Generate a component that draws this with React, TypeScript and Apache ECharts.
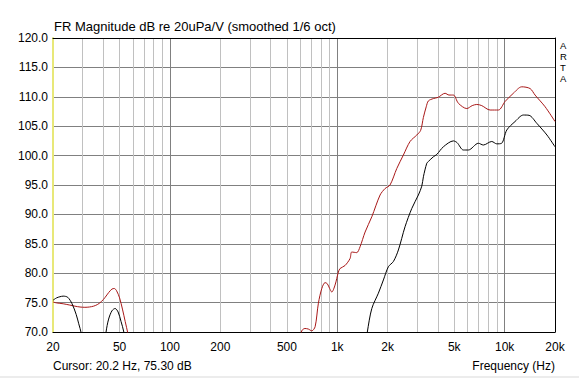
import React, { useEffect, useRef } from "react";
import * as echarts from "echarts";

// ---- data ----
const redFreq = [20, 21, 23, 25, 27, 29, 31, 33, 35, 37, 39, 41, 43, 45, 46.5, 48, 50, 52, 54, 56, 58, 60, 580, 600, 613, 641, 671, 704, 737, 771, 808, 845, 872, 900, 927, 970, 1015, 1039, 1112, 1192, 1220, 1307, 1368, 1466, 1608, 1802, 1930, 2066, 2267, 2483, 2722, 2986, 3150, 3270, 3400, 3502, 3752, 4000, 4406, 4650, 4941, 5292, 5941, 6400, 6815, 7300, 8186, 9181, 10060, 11280, 12660, 14200, 15200, 17460, 20000];
const redDb = [75.1, 74.95, 74.8, 74.6, 74.4, 74.25, 74.2, 74.25, 74.4, 74.7, 75.2, 75.9, 76.7, 77.3, 77.4, 77.0, 75.8, 73.9, 71.8, 69.8, 67.5, 64, 64, 68.5, 70.2, 70.6, 70.5, 70.2, 70.9, 74.9, 77.4, 78.4, 78.2, 77.4, 76.8, 78.0, 80.2, 80.8, 81.3, 82.5, 83.6, 83.5, 84.5, 87.0, 89.6, 93.3, 94.4, 95.0, 97.8, 100.1, 102.4, 103.5, 104.3, 106.5, 108.3, 109.3, 109.7, 109.9, 110.6, 110.3, 110.3, 108.9, 108.0, 108.5, 108.7, 108.5, 107.75, 107.75, 109.2, 110.6, 111.7, 111.4, 110.3, 108.3, 105.8];

const blackFreq = [20, 21, 22, 23, 24.5, 26, 27.5, 28.5, 29.5, 31, 33, 38, 40, 41.5, 43, 45, 47, 49, 51, 53, 55, 58, 1400, 1450, 1512, 1608, 1760, 1886, 2020, 2165, 2318, 2540, 2786, 3052, 3198, 3270, 3426, 3502, 3752, 3932, 4306, 4941, 5200, 5670, 6070, 6968, 7460, 8376, 8970, 9600, 10300, 11550, 12940, 14000, 15560, 17900, 20000];
const blackDb = [75.4, 75.8, 76.0, 76.1, 75.9, 74.8, 73.0, 71.4, 69.8, 66, 63, 63, 66, 70, 72.2, 73.6, 74.0, 73.4, 71.8, 70, 67, 63, 63, 66, 70, 74.0, 76.6, 78.85, 81.1, 82.0, 83.95, 87.9, 91.0, 93.3, 94.8, 96.4, 98.7, 99.0, 99.8, 100.2, 101.5, 102.5, 102.2, 100.95, 100.95, 102.1, 101.8, 102.4, 102.0, 102.1, 104.35, 105.8, 106.9, 106.85, 105.5, 103.5, 101.5];

const xGridValues = [30, 40, 50, 60, 70, 80, 90, 100, 200, 300, 400, 500, 600, 700, 800, 900, 1000, 2000, 3000, 4000, 5000, 6000, 7000, 8000, 9000, 10000];
const xLabelValues = [20, 50, 100, 200, 500, 1000, 2000, 5000, 10000, 20000];
const xMin = 20;
const xMax = 20000;
const yMin = 70;
const yMax = 120;
const yStep = 5;

const titleText = "FR Magnitude dB re 20uPa/V (smoothed 1/6 oct)";
const cursorText = "Cursor: 20.2 Hz, 75.30 dB";
const xAxisName = "Frequency (Hz)";
const sideLetters = ["A", "R", "T", "A"];

const FONT = "'Liberation Sans', Arial, sans-serif";

export default function App() {
  const ref = useRef<HTMLDivElement>(null);

  useEffect(() => {
    if (!ref.current) return;
    const chart = echarts.init(ref.current, undefined, { renderer: "svg" });
    const zip = (f: number[], v: number[]) => f.map((x, i) => [x, v[i]]);
    const light = "#c0c0c0";
    const dark = "#808080";

    const letterTexts = sideLetters.map((ch, i) => ({
      type: "text",
      left: 560,
      top: 40 + i * 11,
      style: { text: ch, font: `9.5px ${FONT}`, fill: "#000", lineHeight: 9 },
    }));

    chart.setOption({
      animation: false,
      backgroundColor: "#ffffff",
      grid: { left: 53, top: 38, right: 24, bottom: 46, containLabel: false },
      xAxis: [
        {
          type: "log",
          logBase: 10,
          min: xMin,
          max: xMax,
          position: "bottom",
          axisLine: { show: true, lineStyle: { color: "#000", width: 1 } },
          axisTick: { show: false, customValues: xGridValues },
          axisLabel: {
            customValues: xLabelValues,
            color: "#000",
            fontFamily: FONT,
            fontSize: 12,
            margin: 9,
            formatter: (v: number) => {
              const r = Math.round(v);
              return r >= 1000 ? r / 1000 + "k" : String(r);
            },
          },
          splitLine: {
            show: true,
            lineStyle: { color: [light, light, light, light, light, light, light, dark, light], width: 1 },
          },
        },
        {
          type: "log",
          logBase: 10,
          min: xMin,
          max: xMax,
          position: "top",
          axisLine: { show: true, lineStyle: { color: "#000", width: 1 } },
          axisTick: { show: false },
          axisLabel: { show: false },
          splitLine: { show: false },
        },
      ],
      yAxis: [
        {
          type: "value",
          min: yMin,
          max: yMax,
          interval: yStep,
          position: "left",
          axisLine: { show: true, lineStyle: { color: "#e8e878", width: 2 } },
          axisTick: { show: false },
          axisLabel: {
            color: "#000",
            fontFamily: FONT,
            fontSize: 12,
            margin: 5,
            formatter: (v: number) => v.toFixed(1),
          },
          splitLine: { show: true, showMinLine: false, showMaxLine: false, lineStyle: { color: dark, width: 1 } },
        },
        {
          type: "value",
          min: yMin,
          max: yMax,
          interval: yStep,
          position: "right",
          axisLine: { show: true, lineStyle: { color: "#000", width: 1 } },
          axisTick: { show: false },
          axisLabel: { show: false },
          splitLine: { show: false },
        },
      ],
      series: [
        {
          type: "line",
          name: "red",
          data: zip(redFreq, redDb),
          showSymbol: false,
          smooth: 0.3,
          clip: true,
          lineStyle: { color: "#a81818", width: 1 },
          z: 3,
        },
        {
          type: "line",
          name: "black",
          data: zip(blackFreq, blackDb),
          showSymbol: false,
          smooth: 0.3,
          clip: true,
          lineStyle: { color: "#000000", width: 1 },
          z: 4,
        },
      ],
      graphic: [
        {
          type: "text",
          left: 54,
          top: 20,
          style: { text: titleText, font: `13px ${FONT}`, fill: "#000" },
        },
        {
          type: "text",
          left: 53,
          top: 360,
          style: { text: cursorText, font: `12px ${FONT}`, fill: "#000" },
        },
        {
          type: "text",
          right: 24,
          top: 360,
          style: { text: xAxisName, font: `12px ${FONT}`, fill: "#000" },
        },
        ...letterTexts,
        {
          type: "rect",
          left: 0,
          top: 376,
          shape: { width: 579, height: 2 },
          style: { fill: "#ececec" },
        },
      ],
    });
    return () => chart.dispose();
  }, []);

  return (
    <div
      ref={ref}
      style={{ position: "fixed", left: 0, top: 0, width: 579, height: 378 }}
    />
  );
}
